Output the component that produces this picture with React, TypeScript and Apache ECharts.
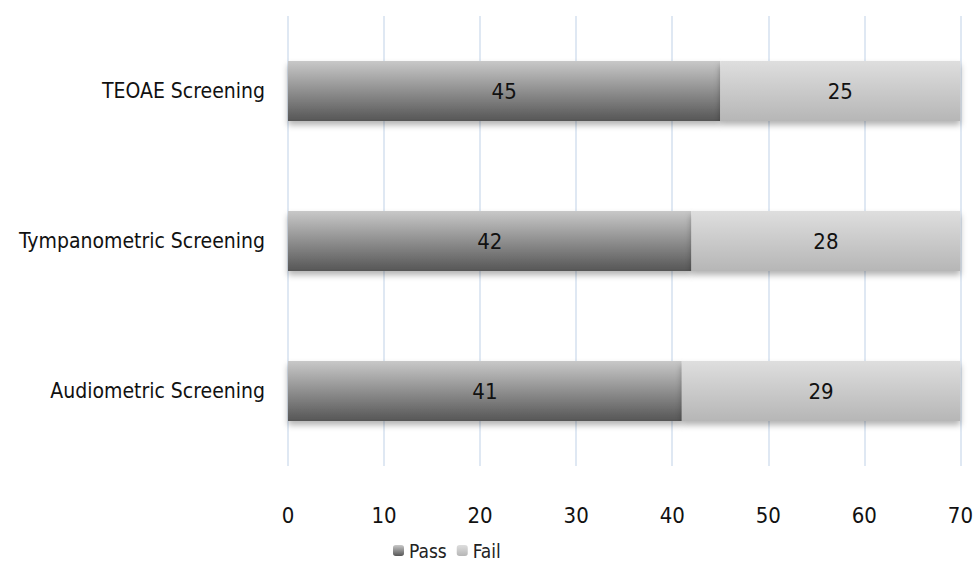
import React, { useEffect, useRef } from "react";
import * as echarts from "echarts";

const categories = ["Audiometric Screening", "Tympanometric Screening", "TEOAE Screening"];
const passValues = [41, 42, 45];
const failValues = [29, 28, 25];
const xTicks = [0, 10, 20, 30, 40, 50, 60, 70];

const FONT = "'DejaVu Sans Condensed', 'Liberation Sans Narrow', sans-serif";

export default function App() {
  const ref = useRef<HTMLDivElement>(null);
  useEffect(() => {
    if (!ref.current) return;
    const chart = echarts.init(ref.current, undefined, { renderer: "svg" });
    const passGrad = new echarts.graphic.LinearGradient(0, 0, 0, 1, [
      { offset: 0, color: "#c8c8c8" },
      { offset: 1, color: "#565656" },
    ]);
    const failGrad = new echarts.graphic.LinearGradient(0, 0, 0, 1, [
      { offset: 0, color: "#dedede" },
      { offset: 1, color: "#b6b6b6" },
    ]);
    chart.setOption({
      animation: false,
      textStyle: { fontFamily: FONT },
      grid: { left: 288, right: 13, top: 16, bottom: 100, containLabel: false },
      legend: {
        bottom: 1,
        left: 388,
        itemWidth: 11,
        itemHeight: 11,
        itemGap: 10,
        textStyle: { fontSize: 19, color: "#222", fontFamily: FONT },
        data: ["Pass", "Fail"],
      },
      xAxis: {
        type: "value",
        min: xTicks[0],
        max: xTicks[xTicks.length - 1],
        interval: 10,
        axisLine: { show: false },
        axisTick: { show: false },
        splitLine: { show: true, lineStyle: { color: "#d5e1ef", width: 1.5 } },
        axisLabel: { fontSize: 22, color: "#111", margin: 38, fontFamily: FONT },
      },
      yAxis: {
        type: "category",
        data: categories,
        axisLine: { show: false },
        axisTick: { show: false },
        axisLabel: { fontSize: 21, color: "#111", margin: 23, fontFamily: FONT },
      },
      series: [
        {
          name: "Pass",
          type: "bar",
          stack: "total",
          data: passValues,
          barWidth: 60,
          itemStyle: {
            color: passGrad,
            shadowColor: "rgba(0,0,0,0.3)",
            shadowBlur: 6,
            shadowOffsetY: 4,
          },
          label: { show: true, position: "inside", fontSize: 22, color: "#111", fontFamily: FONT },
        },
        {
          name: "Fail",
          type: "bar",
          stack: "total",
          data: failValues,
          barWidth: 60,
          itemStyle: {
            color: failGrad,
            shadowColor: "rgba(0,0,0,0.3)",
            shadowBlur: 6,
            shadowOffsetY: 4,
          },
          label: { show: true, position: "inside", fontSize: 22, color: "#111", fontFamily: FONT },
        },
      ],
    });
    return () => chart.dispose();
  }, []);
  return (
    <div
      ref={ref}
      style={{ position: "absolute", left: 0, top: 0, width: 976, height: 566, background: "#fff" }}
    />
  );
}
